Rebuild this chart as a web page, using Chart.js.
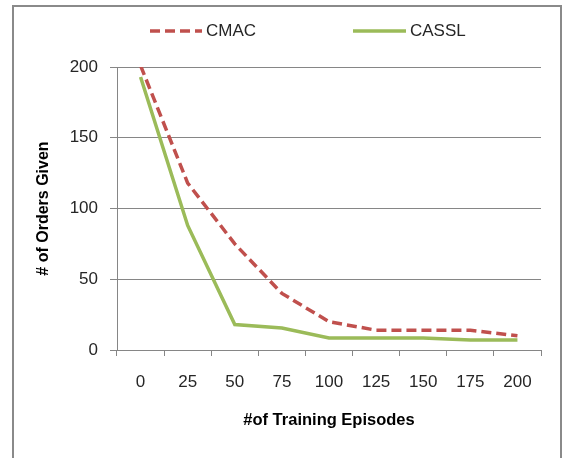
<!DOCTYPE html>
<html>
<head>
<meta charset="utf-8">
<script src="https://cdn.jsdelivr.net/npm/chart.js@4.4.1/dist/chart.umd.min.js"></script>
<style>
  html, body { margin: 0; padding: 0; background: #fff; }
  #wrap { position: relative; width: 563px; height: 458px; }
  #frame { position: absolute; left: 12px; top: 5px; width: 550px; height: 470px; border: 2px solid #8a8a8a; box-sizing: border-box; pointer-events: none; }
  canvas { position: absolute; left: 0; top: 0; }
</style>
</head>
<body>
<div id="wrap">
  <canvas id="c" width="563" height="458"></canvas>
  <div id="frame"></div>
</div>
<script>
const categories = ['0', '25', '50', '75', '100', '125', '150', '175', '200'];
const cmacValues = [201, 118, 75, 40, 20, 14, 14, 14, 10];
const casslValues = [193, 88, 18, 15.5, 8.5, 8.5, 8.5, 7, 7];
const seriesNames = ['CMAC', 'CASSL'];
const yTicks = [0, 50, 100, 150, 200];
const xTitle = '#of Training Episodes';
const yTitle = '# of Orders Given';

const FONT = '"Liberation Sans", Arial, sans-serif';

const legendPlugin = {
  id: 'customLegend',
  afterDraw(chart) {
    const ctx = chart.ctx;
    const positions = [{x1: 150, x2: 202, tx: 206}, {x1: 353, x2: 406, tx: 410}];
    const y = 31;
    chart.data.datasets.forEach((ds, i) => {
      const p = positions[i];
      ctx.save();
      ctx.strokeStyle = ds.borderColor;
      ctx.lineWidth = ds.borderWidth;
      ctx.setLineDash(ds.borderDash || []);
      ctx.beginPath();
      ctx.moveTo(p.x1, y);
      ctx.lineTo(p.x2, y);
      ctx.stroke();
      ctx.setLineDash([]);
      ctx.fillStyle = '#262626';
      ctx.font = '17px ' + FONT;
      ctx.textBaseline = 'middle';
      ctx.textAlign = 'left';
      ctx.fillText(ds.label, p.tx, y);
      ctx.restore();
    });
  }
};

new Chart(document.getElementById('c'), {
  type: 'line',
  data: {
    labels: categories,
    datasets: [
      { label: seriesNames[0], data: cmacValues, borderColor: '#C0504D', backgroundColor: '#C0504D',
        borderWidth: 3.5, borderDash: [10, 5], pointRadius: 0, tension: 0, fill: false },
      { label: seriesNames[1], data: casslValues, borderColor: '#9BBB59', backgroundColor: '#9BBB59',
        borderWidth: 3.5, pointRadius: 0, tension: 0, fill: false }
    ]
  },
  options: {
    responsive: false,
    animation: false,
    devicePixelRatio: 1,
    layout: { padding: { top: 67, right: 22, bottom: 28, left: 34 } },
    plugins: { legend: { display: false }, tooltip: { enabled: false } },
    scales: {
      x: {
        type: 'category',
        offset: true,
        afterFit(scale) { scale.height = 80; },
        grid: { display: true, offset: true, drawOnChartArea: false, drawTicks: true, tickLength: 6, color: '#868686', lineWidth: 1 },
        border: { display: true, color: '#868686', width: 1 },
        ticks: { color: '#262626', padding: 16, font: { family: FONT, size: 17 }, maxRotation: 0, autoSkip: false },
        title: { display: true, text: xTitle, color: '#000', padding: { top: 0, bottom: 0 },
          font: { family: FONT, size: 16.5, weight: 'bold' } }
      },
      y: {
        min: 0, max: 200,
        afterFit(scale) { scale.width = 83; },
        afterBuildTicks(scale) { scale.ticks = yTicks.map(v => ({ value: v })); },
        grid: { color: '#868686', lineWidth: 1, tickLength: 7, drawTicks: true },
        border: { display: true, color: '#868686', width: 1 },
        ticks: { color: '#262626', padding: 12, font: { family: FONT, size: 17 } },
        title: { display: true, text: yTitle, color: '#000', padding: { top: 0, bottom: 0 },
          font: { family: FONT, size: 16, weight: 'bold' } }
      }
    }
  },
  plugins: [legendPlugin]
});
</script>
</body>
</html>
